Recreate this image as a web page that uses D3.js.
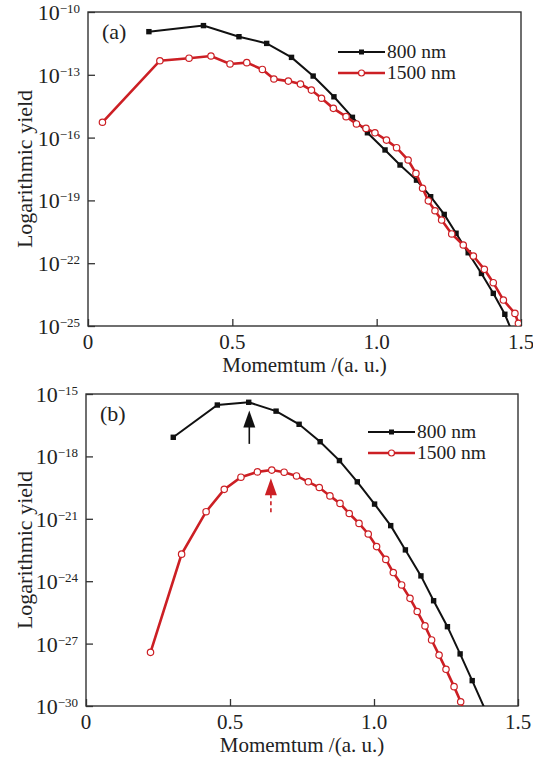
<!DOCTYPE html>
<html><head><meta charset="utf-8">
<script src="https://cdn.jsdelivr.net/npm/d3@7"></script>
<style>body{margin:0;background:#fff}svg{display:block}</style>
</head><body>
<script>
// ---- Data ----
const xTicks = [0, 0.5, 1.0, 1.5];
const xTickLabels = ["0", "0.5", "1.0", "1.5"];
const yTicksA = [-10, -13, -16, -19, -22, -25];   // exponents
const yTicksB = [-15, -18, -21, -24, -27, -30];
const seriesNames = ["800 nm", "1500 nm"];
const panelLabels = ["(a)", "(b)"];
const xTitle = "Momemtum /(a. u.)";
const yTitle = "Logarithmic yield";

const a800x = [0.211,0.400,0.523,0.619,0.705,0.780,0.852,0.916,0.968,1.029,1.081,1.138,1.187,1.234,1.275,1.317,1.363,1.404,1.444,1.470];
const a800y = [1.15e-11,2.24e-11,6.6e-12,3.16e-12,6.8e-13,8.7e-14,8.9e-15,9.3e-16,1.7e-16,2.57e-17,4.9e-18,9.3e-19,1.5e-19,2.14e-20,2.7e-21,3.16e-22,3.24e-23,3.63e-24,3.63e-25,5e-26];
const a1500x = [0.050,0.249,0.350,0.426,0.492,0.550,0.604,0.644,0.694,0.736,0.774,0.809,0.850,0.894,0.930,0.963,0.994,1.034,1.069,1.109,1.136,1.159,1.179,1.202,1.225,1.260,1.300,1.335,1.373,1.404,1.439,1.479,1.491];
const a1500y = [5.4e-16,4.7e-13,6.2e-13,7.9e-13,3.3e-13,3.8e-13,1.8e-13,6.3e-14,5.0e-14,3.6e-14,1.86e-14,7.6e-15,2.5e-15,1.0e-15,4.5e-16,2.75e-16,1.7e-16,7.6e-17,3.3e-17,8.5e-18,1.95e-18,3.8e-19,9.5e-20,3.2e-20,1.15e-20,2.5e-21,7.4e-22,2.2e-22,5.1e-23,1.17e-23,1.74e-24,4.0e-25,1.35e-25];
const b800x = [0.303,0.456,0.565,0.660,0.740,0.813,0.880,0.942,1.002,1.058,1.109,1.163,1.207,1.255,1.299,1.341,1.390];
const b800y = [8.3e-18,2.95e-16,4.0e-16,1.5e-16,3.5e-17,5.1e-18,6.3e-19,6.0e-20,5.1e-21,4.7e-22,3.2e-23,1.8e-24,1.15e-25,6.5e-27,3.2e-28,1.66e-29,5e-31];
const b1500x = [0.224,0.332,0.417,0.480,0.538,0.595,0.645,0.688,0.731,0.772,0.810,0.847,0.882,0.914,0.948,0.980,1.009,1.041,1.067,1.096,1.125,1.150,1.177,1.200,1.226,1.250,1.278,1.301,1.315];
const b1500y = [3.8e-28,2.0e-23,2.2e-21,2.6e-20,1.0e-19,1.8e-19,2.2e-19,1.74e-19,1.15e-19,6.0e-20,3.2e-20,1.26e-20,5.5e-21,1.8e-21,6.0e-22,1.86e-22,4.6e-23,1.12e-23,2.6e-24,6.6e-25,1.5e-25,3.5e-26,7.1e-27,1.5e-27,2.8e-28,5.8e-29,8.5e-30,1.6e-30,5e-31];
// peak arrows in (b): x, tip y, tail y
const arrowX = [0.567, 0.642];
const arrowTip = [1.6e-16, 8.9e-20];
const arrowTail = [4.0e-18, 1.5e-21];

// ---- Drawing ----
const FONT = '"Liberation Serif"';
const W = 533, H = 758;
const svg = d3.select("body").append("svg").attr("width", W).attr("height", H);
const RED = "#cc1f24", BLACK = "#111", TXT = "#222";
const zip = (xs, ys) => xs.map((x, i) => ({x, y: ys[i]}));
const txt = (sel, size) => sel.append("text").style("font-family", FONT).style("font-size", size + "px").style("fill", TXT);

function panel(cfg) {
  const {left, right, top, bottom, yExp, s800, s1500, label, legX, legY, id} = cfg;
  const x = d3.scaleLinear().domain([0, 1.5]).range([left, right]);
  const y = d3.scaleLog().domain([Math.pow(10, yExp[yExp.length-1]), Math.pow(10, yExp[0])]).range([bottom, top]);
  const g = svg.append("g");
  g.append("clipPath").attr("id", id).append("rect")
    .attr("x", left).attr("y", top).attr("width", right-left).attr("height", bottom-top);

  const yAx = g.append("g").attr("transform", `translate(${left},0)`)
    .call(d3.axisLeft(y).tickValues(yExp.map(e => Math.pow(10, e))).tickSizeInner(-7).tickSizeOuter(0).tickFormat(""));
  const xAx = g.append("g").attr("transform", `translate(0,${bottom})`)
    .call(d3.axisBottom(x).tickValues(xTicks).tickSizeInner(-7).tickSizeOuter(0).tickFormat(""));
  [yAx, xAx].forEach(a => { a.select(".domain").remove(); a.selectAll("line").attr("stroke", "#333").attr("stroke-width", 1.3); });

  g.append("rect").attr("x", left).attr("y", top).attr("width", right-left).attr("height", bottom-top)
    .attr("fill", "none").attr("stroke", "#333").attr("stroke-width", 1.4);

  yExp.forEach(e => {
    const t = txt(g, 22).attr("x", left - 8).attr("y", y(Math.pow(10, e)) + 8).attr("text-anchor", "end");
    t.append("tspan").text("10");
    t.append("tspan").attr("dy", -7).style("font-size", "13px").text("\u2212" + Math.abs(e));
  });
  xTicks.forEach((v, i) => {
    txt(g, 21).attr("x", x(v)).attr("y", bottom + 23).attr("text-anchor", "middle").text(xTickLabels[i]);
  });
  txt(g, 21).attr("x", (left+right)/2).attr("y", bottom + 46).attr("text-anchor", "middle").text(xTitle);
  txt(g, 22).attr("transform", `translate(32,${(top+bottom)/2}) rotate(-90)`).attr("text-anchor", "middle").text(yTitle);
  txt(g, 22).attr("x", left + 14).attr("y", top + 27).text(label);

  const line = d3.line().x(d => x(d.x)).y(d => y(d.y));
  const plot = g.append("g").attr("clip-path", `url(#${id})`);
  plot.append("path").datum(s800).attr("d", line).attr("fill", "none").attr("stroke", BLACK).attr("stroke-width", 2);
  plot.selectAll(".sq").data(s800).join("rect").attr("x", d => x(d.x) - 2.7).attr("y", d => y(d.y) - 2.7)
    .attr("width", 5.4).attr("height", 5.4).attr("fill", BLACK);
  plot.append("path").datum(s1500).attr("d", line).attr("fill", "none").attr("stroke", RED).attr("stroke-width", 2.6);
  plot.selectAll(".ci").data(s1500).join("circle").attr("cx", d => x(d.x)).attr("cy", d => y(d.y)).attr("r", 3.2)
    .attr("fill", "#fff").attr("stroke", RED).attr("stroke-width", 1.2);

  const lg = g.append("g");
  [[BLACK, 0], [RED, 1]].forEach(([c, i]) => {
    const yy = legY + i * 21;
    lg.append("line").attr("x1", legX).attr("x2", legX + 47).attr("y1", yy).attr("y2", yy)
      .attr("stroke", c).attr("stroke-width", i ? 2.6 : 2);
    if (i) lg.append("circle").attr("cx", legX + 23.5).attr("cy", yy).attr("r", 3).attr("fill", "#fff").attr("stroke", RED).attr("stroke-width", 1.2);
    else lg.append("rect").attr("x", legX + 21).attr("y", yy - 2.5).attr("width", 5).attr("height", 5).attr("fill", BLACK);
    txt(lg, 19.5).attr("x", legX + 49).attr("y", yy + 6).text(seriesNames[i]);
  });
  return {x, y, g};
}

panel({left: 88, right: 521, top: 12, bottom: 326, yExp: yTicksA, s800: zip(a800x, a800y), s1500: zip(a1500x, a1500y),
  label: panelLabels[0], legX: 338, legY: 52, id: "clipA"});
const pb = panel({left: 86, right: 518, top: 394, bottom: 706, yExp: yTicksB, s800: zip(b800x, b800y), s1500: zip(b1500x, b1500y),
  label: panelLabels[1], legX: 368, legY: 432, id: "clipB"});

[[BLACK, false], [RED, true]].forEach(([c, dashed], i) => {
  const ax = pb.x(arrowX[i]), tip = pb.y(arrowTip[i]), tail = pb.y(arrowTail[i]);
  const headLen = 17, hw = 6;
  pb.g.append("line").attr("x1", ax).attr("x2", ax).attr("y1", tip + headLen - 1).attr("y2", tail)
    .attr("stroke", c).attr("stroke-width", 1.6).attr("stroke-dasharray", dashed ? "4,3" : null);
  pb.g.append("path").attr("d", `M${ax},${tip} L${ax - hw},${tip + headLen} L${ax + hw},${tip + headLen} Z`).attr("fill", c);
});
</script>
</body></html>
